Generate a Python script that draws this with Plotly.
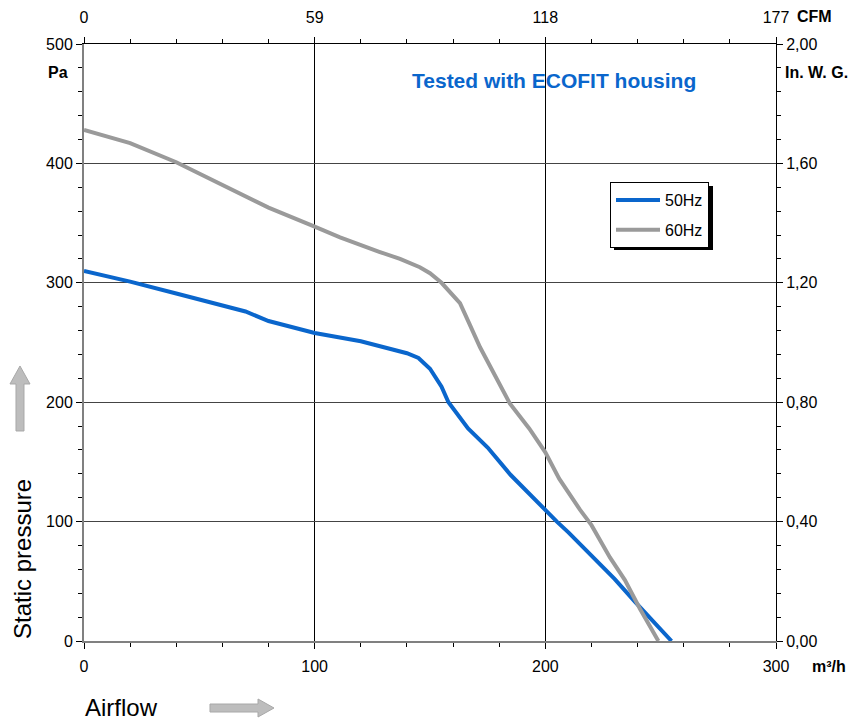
import plotly.graph_objects as go

# ---- data ----
flow_50 = [0, 20, 40, 60, 70, 80, 100, 120, 130, 140, 145, 150, 155, 158, 166.5, 175, 185, 190, 200, 205, 210, 220, 230, 238.8, 248, 254.7]
pa_50   = [310, 301, 291, 281, 276, 268, 258, 251, 246, 241, 237, 228, 213, 200, 178, 162, 139, 129, 110, 100, 91, 72, 52, 33, 14, 0]

flow_60 = [0, 20, 40, 68, 80, 100, 111, 128, 137, 145.6, 150, 155, 159, 163, 167, 171.7, 184.6, 193, 200, 206, 215, 220, 228, 234.5, 241, 249]
pa_60   = [428, 417, 401, 375, 363, 347, 338, 326, 320, 313, 308, 300, 292, 283, 266, 246, 199, 178, 158, 136, 110, 97, 70, 51, 27, 0]

x_ticks = [0, 100, 200, 300]
x_ticklabels = ["0", "100", "200", "300"]
cfm_ticklabels = ["0", "59", "118", "177"]
y_ticks = [0, 100, 200, 300, 400, 500]
y_ticklabels = ["0", "100", "200", "300", "400", "500"]
inwg_ticklabels = ["0,00", "0,40", "0,80", "1,20", "1,60", "2,00"]

W, H = 851, 722
L, R, T, B = 84, 776, 44, 641  # plot area pixel bounds

def px(x):
    return (x - L) / (R - L)

def py(y):
    return (B - y) / (B - T)

FONT = "Liberation Sans, Arial, sans-serif"
BLUE = "#0a66cc"
GREY = "#9a9a9a"

fig = go.Figure()
fig.add_trace(go.Scatter(x=flow_50, y=pa_50, mode="lines", name="50Hz",
                         line=dict(color=BLUE, width=4), legendgroup="a"))
fig.add_trace(go.Scatter(x=flow_60, y=pa_60, mode="lines", name="60Hz",
                         line=dict(color=GREY, width=4), legendgroup="b"))
# invisible trace to activate secondary axes
fig.add_trace(go.Scatter(x=[0], y=[0], xaxis="x2", yaxis="y2", mode="markers",
                         marker=dict(opacity=0), showlegend=False, hoverinfo="skip"))

tickfont = dict(family=FONT, size=16, color="#000")

fig.update_layout(
    width=W, height=H,
    margin=dict(l=L, r=W - R, t=T, b=H - B, autoexpand=False),
    paper_bgcolor="white", plot_bgcolor="white",
    showlegend=True,
    legend=dict(x=px(610), y=py(182), xanchor="left", yanchor="top",
                bgcolor="white", bordercolor="#000", borderwidth=1,
                font=dict(family=FONT, size=16, color="#000"),
                traceorder="grouped", tracegroupgap=6, itemwidth=44),
    xaxis=dict(range=[0, 300], tickvals=x_ticks, ticktext=x_ticklabels,
               showgrid=True, gridcolor="#000", gridwidth=1,
               showline=True, linecolor="#808080", linewidth=2,
               ticks="outside", ticklen=6, tickcolor="#000", tickfont=tickfont,
               ticklabelstandoff=4, automargin=False,
               minor=dict(dtick=20, ticks="outside", ticklen=4, tickcolor="#000", showgrid=False),
               zeroline=False, fixedrange=True),
    yaxis=dict(range=[0, 500], tickvals=y_ticks, ticktext=y_ticklabels,
               showgrid=True, gridcolor="#444", gridwidth=1,
               showline=True, linecolor="#808080", linewidth=2,
               ticks="outside", ticklen=6, tickcolor="#000", tickfont=tickfont,
               automargin=False,
               minor=dict(dtick=20, ticks="outside", ticklen=4, tickcolor="#000", showgrid=False),
               zeroline=False, fixedrange=True),
    xaxis2=dict(range=[0, 300], overlaying="x", side="top", anchor="y",
                tickvals=x_ticks, ticktext=cfm_ticklabels,
                showgrid=False, showline=True, linecolor="#000", linewidth=1,
                ticks="outside", ticklen=6, tickcolor="#000", tickfont=tickfont,
                ticklabelstandoff=8, automargin=False,
                minor=dict(dtick=20, ticks="outside", ticklen=4, tickcolor="#000"),
                zeroline=False, fixedrange=True),
    yaxis2=dict(range=[0, 500], overlaying="y", side="right", anchor="x",
                tickvals=y_ticks, ticktext=inwg_ticklabels,
                showgrid=False, showline=True, linecolor="#000", linewidth=1,
                ticks="outside", ticklen=6, tickcolor="#000", tickfont=tickfont,
                automargin=False,
                minor=dict(dtick=20, ticks="outside", ticklen=4, tickcolor="#000"),
                zeroline=False, fixedrange=True),
)

bold = dict(family=FONT, size=16, color="#000")
ann = [
    dict(text="<b>Tested with ECOFIT housing</b>", x=px(410), y=py(80), xanchor="left", yanchor="middle",
         font=dict(family=FONT, size=21, color=BLUE)),
    dict(text="<b>Pa</b>", x=px(46), y=py(73), xanchor="left", yanchor="middle", font=bold),
    dict(text="<b>In. W. G.</b>", x=px(783), y=py(73), xanchor="left", yanchor="middle", font=bold),
    dict(text="<b>CFM</b>", x=px(795), y=py(17), xanchor="left", yanchor="middle", font=bold),
    dict(text="<b>m³/h</b>", x=px(810), y=py(666), xanchor="left", yanchor="middle", font=bold),
    dict(text="Static pressure", x=px(22), y=py(559), xanchor="center", yanchor="middle",
         textangle=-90, font=dict(family=FONT, size=24, color="#000")),
    dict(text="Airflow", x=px(83), y=py(707), xanchor="left", yanchor="middle",
         font=dict(family=FONT, size=24, color="#000")),
]
for a in ann:
    a.update(xref="paper", yref="paper", showarrow=False)
fig.update_layout(annotations=ann)

def path(points):
    return "M " + " L ".join(f"{px(x):.5f},{py(y):.5f}" for x, y in points) + " Z"

shapes = [
    # legend shadow
    dict(type="rect", xref="paper", yref="paper", x0=px(614), x1=px(713), y0=py(186), y1=py(250),
         fillcolor="#000", line=dict(width=0), layer="below"),
    # up arrow
    dict(type="path", xref="paper", yref="paper",
         path=path([(16, 431), (24, 431), (24, 384), (30, 384), (20, 366), (10, 384), (16, 384)]),
         fillcolor="#bdbdbd", line=dict(color="#a8a8a8", width=1)),
    # right arrow
    dict(type="path", xref="paper", yref="paper",
         path=path([(210, 704), (258, 704), (258, 699), (274, 708), (258, 717), (258, 712), (210, 712)]),
         fillcolor="#bdbdbd", line=dict(color="#a8a8a8", width=1)),
]
fig.update_layout(shapes=shapes)

fig.write_html("out.html", config={"displayModeBar": False},
               post_script="document.body.style.margin='0px';")
